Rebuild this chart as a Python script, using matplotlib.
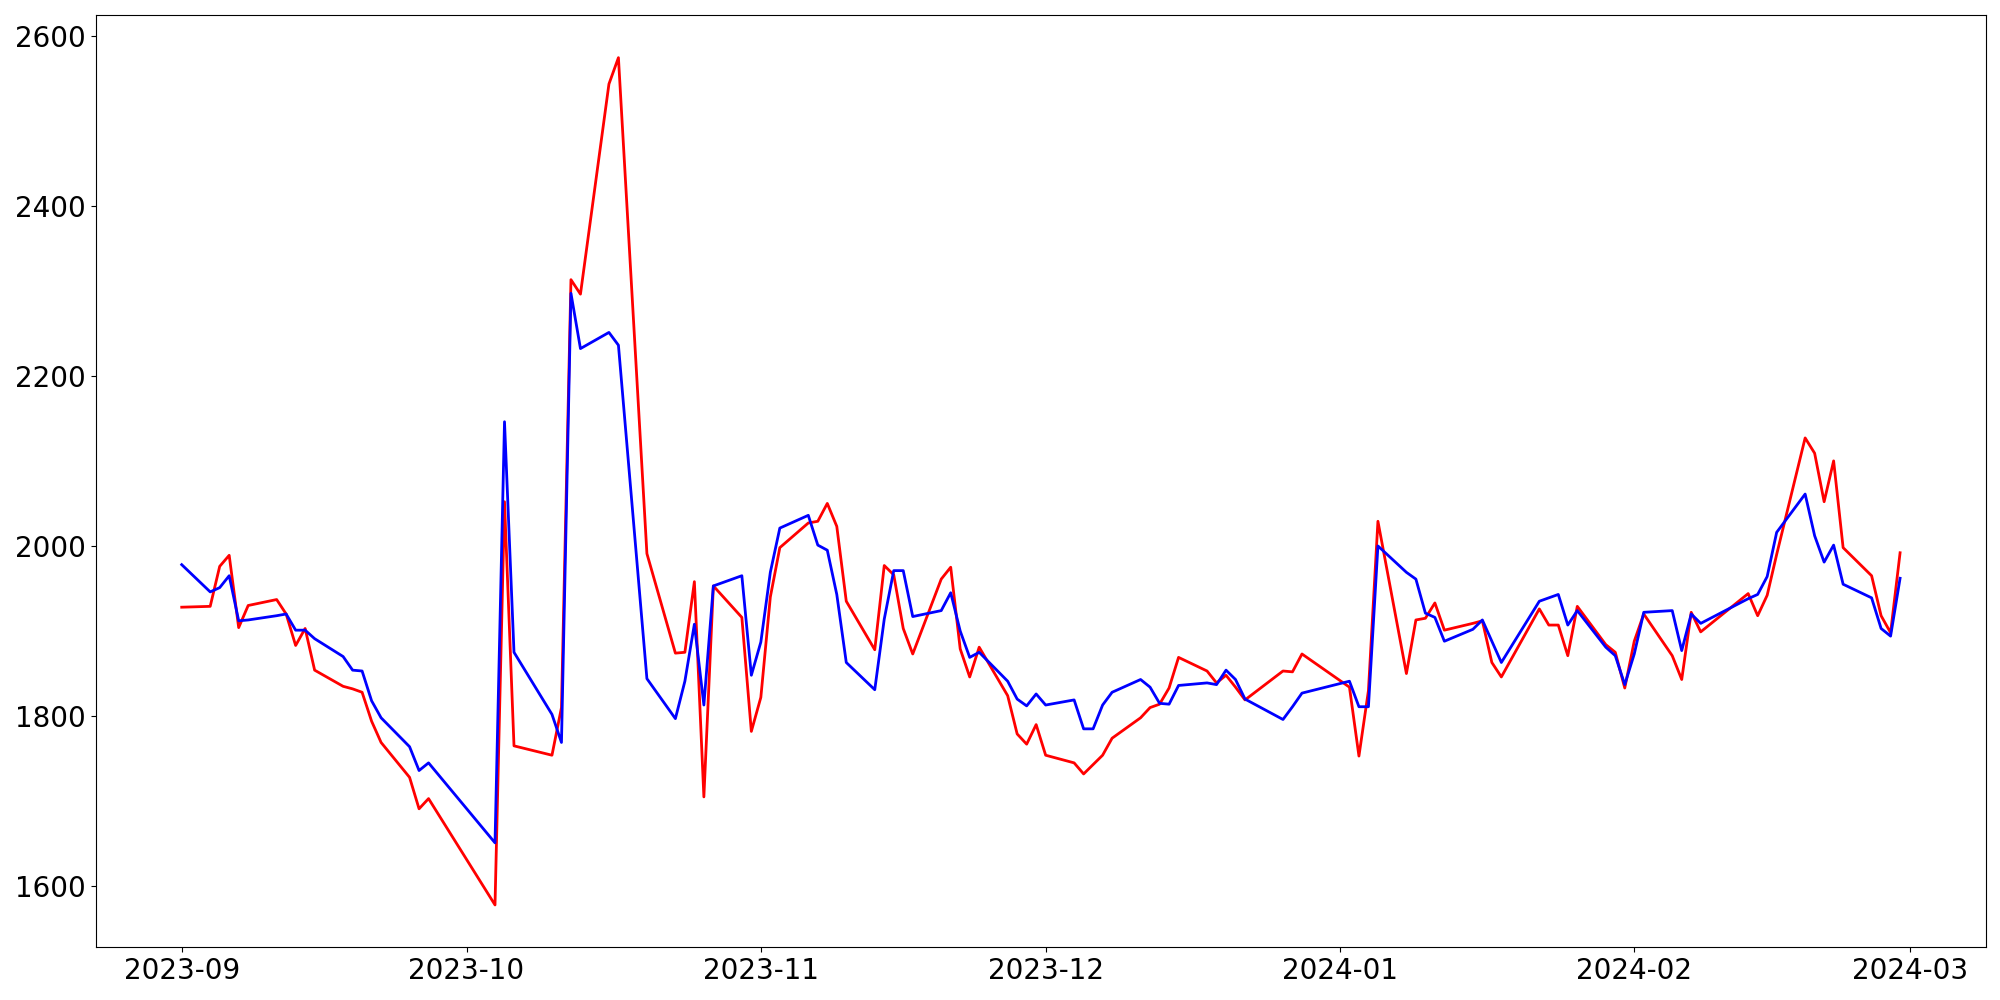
import matplotlib
matplotlib.use("Agg")
import matplotlib.pyplot as plt
import matplotlib.dates as mdates
import pandas as pd

dates = [
    "2023-09-01", "2023-09-04", "2023-09-05", "2023-09-06", "2023-09-07", "2023-09-08",
    "2023-09-11", "2023-09-12", "2023-09-13", "2023-09-14", "2023-09-15",
    "2023-09-18", "2023-09-19", "2023-09-20", "2023-09-21", "2023-09-22",
    "2023-09-25", "2023-09-26", "2023-09-27",
    "2023-10-04", "2023-10-05", "2023-10-06",
    "2023-10-10", "2023-10-11", "2023-10-12", "2023-10-13",
    "2023-10-16", "2023-10-17", "2023-10-20",
    "2023-10-23", "2023-10-24", "2023-10-25", "2023-10-26", "2023-10-27",
    "2023-10-30", "2023-10-31", "2023-11-01", "2023-11-02", "2023-11-03",
    "2023-11-06", "2023-11-07", "2023-11-08", "2023-11-09", "2023-11-10",
    "2023-11-13", "2023-11-14", "2023-11-15", "2023-11-16", "2023-11-17",
    "2023-11-20", "2023-11-21", "2023-11-22", "2023-11-23", "2023-11-24",
    "2023-11-27", "2023-11-28", "2023-11-29", "2023-11-30", "2023-12-01",
    "2023-12-04", "2023-12-05", "2023-12-06", "2023-12-07", "2023-12-08",
    "2023-12-11", "2023-12-12", "2023-12-13", "2023-12-14", "2023-12-15",
    "2023-12-18", "2023-12-19", "2023-12-20", "2023-12-21", "2023-12-22",
    "2023-12-26", "2023-12-27", "2023-12-28",
    "2024-01-02", "2024-01-03", "2024-01-04", "2024-01-05",
    "2024-01-08", "2024-01-09", "2024-01-10", "2024-01-11", "2024-01-12",
    "2024-01-15", "2024-01-16", "2024-01-17", "2024-01-18",
    "2024-01-22", "2024-01-23", "2024-01-24", "2024-01-25", "2024-01-26",
    "2024-01-29", "2024-01-30", "2024-01-31", "2024-02-01", "2024-02-02",
    "2024-02-05", "2024-02-06", "2024-02-07", "2024-02-08",
    "2024-02-13", "2024-02-14", "2024-02-15", "2024-02-16",
    "2024-02-19", "2024-02-20", "2024-02-21", "2024-02-22", "2024-02-23",
    "2024-02-26", "2024-02-27", "2024-02-28", "2024-02-29",
]

red_values = [
    1928, 1929, 1976, 1989, 1904, 1930,
    1937, 1920, 1883, 1903, 1854,
    1835, 1832, 1828, 1794, 1769,
    1728, 1691, 1703,
    1578, 2052, 1765,
    1754, 1810, 2313, 2296,
    2543, 2574, 1991,
    1874, 1875, 1958, 1705, 1953,
    1916, 1782, 1822, 1940, 1998,
    2027, 2029, 2050, 2023, 1935,
    1878, 1977, 1966, 1903, 1873,
    1961, 1975, 1879, 1846, 1881,
    1824, 1779, 1767, 1790, 1754,
    1745, 1732, 1743, 1754, 1774,
    1798, 1810, 1814, 1833, 1869,
    1853, 1839, 1848, 1834, 1819,
    1853, 1852, 1873,
    1834, 1753, 1830, 2029,
    1850, 1913, 1915, 1933, 1901,
    1909, 1912, 1863, 1846,
    1926, 1907, 1907, 1871, 1929,
    1884, 1875, 1833, 1888, 1920,
    1871, 1843, 1922, 1899,
    1944, 1918, 1942, 1990,
    2127, 2109, 2052, 2100, 1998,
    1965, 1918, 1898, 1992,
]

blue_values = [
    1978, 1946, 1951, 1965, 1912, 1913,
    1918, 1920, 1901, 1901, 1891,
    1870, 1854, 1853, 1818, 1798,
    1764, 1736, 1745,
    1651, 2146, 1875,
    1802, 1769, 2297, 2232,
    2251, 2236, 1844,
    1797, 1841, 1908, 1813, 1953,
    1965, 1848, 1887, 1969, 2021,
    2036, 2001, 1995, 1943, 1863,
    1831, 1914, 1971, 1971, 1917,
    1924, 1945, 1900, 1869, 1875,
    1841, 1820, 1812, 1826, 1813,
    1819, 1785, 1785, 1813, 1828,
    1843, 1834, 1815, 1814, 1836,
    1839, 1837, 1854, 1843, 1820,
    1796, 1811, 1827,
    1841, 1811, 1811, 2000,
    1969, 1961, 1921, 1916, 1888,
    1902, 1913, 1888, 1863,
    1935, 1939, 1943, 1907, 1924,
    1881, 1871, 1837, 1873, 1922,
    1924, 1877, 1920, 1909,
    1938, 1943, 1964, 2016,
    2061, 2012, 1981, 2001, 1955,
    1939, 1903, 1894, 1962,
]

x = pd.to_datetime(dates)

fig = plt.figure(figsize=(20, 10), dpi=100)
ax = fig.add_axes([0.0479, 0.0527, 0.9451, 0.9320])
ax.plot(x, red_values, color="red", linewidth=2)
ax.plot(x, blue_values, color="blue", linewidth=2)

ax.xaxis.set_major_locator(mdates.MonthLocator())
ax.xaxis.set_major_formatter(mdates.DateFormatter("%Y-%m"))
ax.tick_params(axis="both", labelsize=20)

fig.savefig("out.png", dpi=100)
